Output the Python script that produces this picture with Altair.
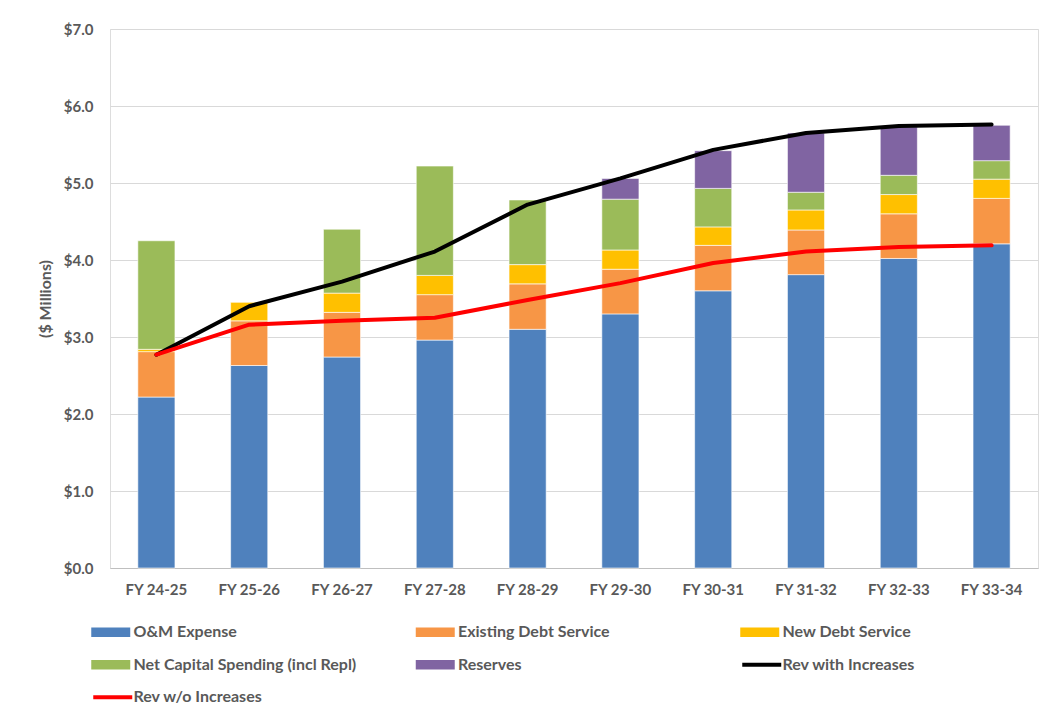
import altair as alt
import pandas as pd

categories = ["FY 24-25", "FY 25-26", "FY 26-27", "FY 27-28", "FY 28-29",
              "FY 29-30", "FY 30-31", "FY 31-32", "FY 32-33", "FY 33-34"]
om_expense = [2.22, 2.63, 2.74, 2.96, 3.10, 3.30, 3.60, 3.81, 4.02, 4.21]
existing_debt = [0.59, 0.58, 0.58, 0.59, 0.59, 0.58, 0.59, 0.58, 0.58, 0.59]
new_debt = [0.03, 0.24, 0.25, 0.25, 0.25, 0.25, 0.24, 0.26, 0.25, 0.25]
net_capital = [1.41, 0.00, 0.83, 1.42, 0.84, 0.66, 0.50, 0.23, 0.25, 0.24]
reserves = [0.00, 0.00, 0.00, 0.00, 0.00, 0.27, 0.49, 0.77, 0.63, 0.46]
rev_with = [2.77, 3.40, 3.72, 4.11, 4.72, 5.06, 5.43, 5.65, 5.74, 5.76]
rev_without = [2.77, 3.16, 3.21, 3.25, 3.48, 3.70, 3.96, 4.11, 4.17, 4.19]

bar_series = ["O&M Expense", "Existing Debt Service", "New Debt Service",
              "Net Capital Spending (incl Repl)", "Reserves"]
bar_colors = ["#4F81BD", "#F79646", "#FFC000", "#9BBB59", "#8064A2"]
bar_values = [om_expense, existing_debt, new_debt, net_capital, reserves]

rows = []
for k, (name, vals) in enumerate(zip(bar_series, bar_values)):
    for c, v in zip(categories, vals):
        if v > 0:
            rows.append({"cat": c, "series": name, "value": v, "ord": k})
bars_df = pd.DataFrame(rows)

with_df = pd.DataFrame({"cat": categories, "value": rev_with, "name": "Rev with Increases"})
without_df = pd.DataFrame({"cat": categories, "value": rev_without, "name": "Rev w/o Increases"})

FONT = "Lato"
GRAY = "#595959"
SYM_RECT = "M-2,-0.5H2V0.5H-2Z"
SYM_LINE = "M-2,0H2"

x_enc = alt.X("cat:N", sort=categories,
              scale=alt.Scale(paddingInner=0.6, paddingOuter=0.3),
              axis=alt.Axis(title=None, labelAngle=0, ticks=False, tickSize=0,
                            domainColor="#BFBFBF", domainWidth=1,
                            labelPadding=14, labelFont=FONT, labelFontSize=15,
                            labelFontWeight="bold", labelColor=GRAY, grid=False))

y_axis = alt.Axis(title="($ Millions)", values=[0, 1, 2, 3, 4, 5, 6, 7], format="$.1f",
                  ticks=False, tickSize=0, domain=False, labelPadding=17,
                  labelFont=FONT, labelFontSize=15, labelFontWeight="bold", labelColor=GRAY,
                  gridColor="#D9D9D9", gridWidth=1,
                  titleFont=FONT, titleFontSize=16, titleFontWeight="bold", titleColor=GRAY,
                  titleAngle=270, titleX=-65, titleY=269.5, titleAlign="center",
                  titleBaseline="middle")

legend_common = dict(title=None, orient="none", padding=0, symbolSize=380,
                     labelFont=FONT, labelFontSize=16,
                     labelFontWeight="bold", labelColor=GRAY, labelLimit=400)

bars = alt.Chart(bars_df).mark_bar(stroke="white", strokeWidth=0.6).encode(
    x=x_enc,
    y=alt.Y("sum(value):Q", scale=alt.Scale(domain=[0, 7], nice=False), axis=y_axis, stack="zero"),
    color=alt.Color("series:N", sort=bar_series,
                    scale=alt.Scale(domain=bar_series, range=bar_colors),
                    legend=alt.Legend(legendX=-9.25, legendY=593.25, columns=3,
                                      direction="horizontal",
                                      columnPadding=58.5, rowPadding=14.5, gridAlign="all",
                                      symbolType=SYM_RECT, symbolStrokeWidth=0,
                                      labelOffset=12.75, **legend_common)),
    order=alt.Order("ord:Q", sort="ascending"),
)

line_with = alt.Chart(with_df).mark_line(strokeWidth=4, interpolate="linear",
                                         strokeCap="round", strokeJoin="round").encode(
    x=alt.X("cat:N", sort=categories),
    y=alt.Y("value:Q"),
    stroke=alt.Stroke("name:N", scale=alt.Scale(domain=["Rev with Increases"], range=["black"]),
                      legend=alt.Legend(legendX=639.75, legendY=623.75,
                                        symbolType=SYM_LINE, symbolStrokeWidth=4,
                                        labelOffset=8.75, **legend_common)),
)

line_without = alt.Chart(without_df).mark_line(strokeWidth=4, interpolate="linear",
                                               strokeCap="round", strokeJoin="round",
                                               color="#FF0000").encode(
    x=alt.X("cat:N", sort=categories),
    y=alt.Y("value:Q"),
    strokeDash=alt.StrokeDash("name:N", scale=alt.Scale(domain=["Rev w/o Increases"], range=[[2000, 0]]),
                              legend=alt.Legend(legendX=-9.25, legendY=656.25,
                                                symbolType=SYM_LINE, symbolStrokeWidth=4,
                                                symbolStrokeColor="#FF0000",
                                                labelOffset=8.75, **legend_common)),
)

chart = alt.layer(bars, line_with, line_without).properties(
    width=928, height=539,
    autosize=alt.AutoSizeParams(type="none"),
    padding={"left": 102, "top": 21, "right": 1, "bottom": 150},
).configure_view(stroke=None).configure(background="white")

chart.save("out.html", embed_options={"renderer": "svg", "actions": False})
